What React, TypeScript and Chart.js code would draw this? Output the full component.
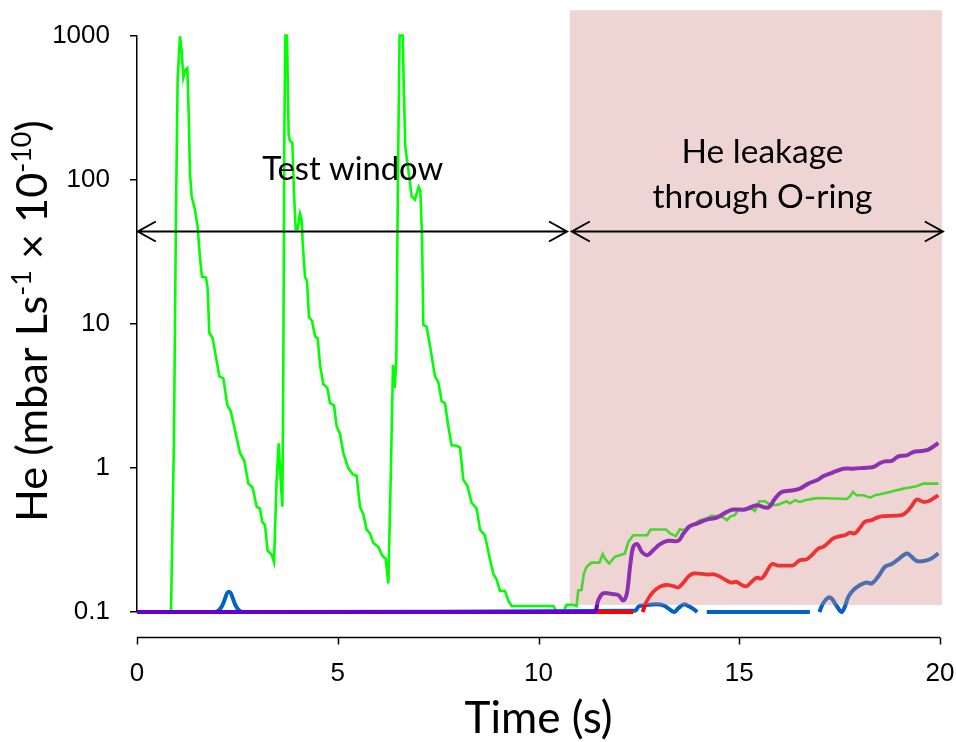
import React, { useEffect, useRef } from "react";
import { Chart, registerables } from "chart.js";

Chart.register(...registerables);

// ---------- axis ticks ----------
const X_TICKS = [0, 5, 10, 15, 20];
const Y_TICKS = [0.1, 1, 10, 100, 1000];
const Y_TICK_LABELS = ["0.1", "1", "10", "100", "1000"];

// ---------- texts ----------
const X_TITLE = "Time (s)";
const Y_TITLE_PARTS: [string, boolean][] = [
  ["He (mbar Ls", false],
  ["-1", true],
  [" \u00d7 10", false],
  ["-10", true],
  [")", false],
];
const TEST_LABEL = "Test window";
const LEAK_LABEL = ["He leakage", "through O-ring"];

// ---------- annotation anchors (data units) ----------
const TEST_ARROW = [0.02, 10.71];
const LEAK_ARROW = [10.83, 20.07];
const ARROW_LEVEL = 44;
const SHADE_X = [10.78, 20.05];
const SHADE_Y = [0.112, 1500];
const TEST_LABEL_POS = [5.37, 100];
const LEAK_LABEL_POS = [15.58, 131, 63.7];

// ---------- series: green ----------
const greenT = [
  0, 0.739, 0.847, 0.92, 0.971, 1.013, 1.071, 1.112, 1.154, 1.204, 1.254, 1.287, 1.32, 1.362, 1.445,
  1.511, 1.569, 1.619, 1.719, 1.76, 1.8, 1.885, 1.968, 2.051, 2.15, 2.25, 2.333, 2.44, 2.565, 2.673,
  2.773, 2.88, 2.98, 3.063, 3.12, 3.188, 3.254, 3.354, 3.412, 3.478, 3.528, 3.578, 3.62, 3.645, 3.67,
  3.694, 3.736, 3.777, 3.81, 3.869, 3.91, 3.952, 4.0, 4.06, 4.1, 4.126, 4.184, 4.234, 4.284, 4.359,
  4.433, 4.5, 4.558, 4.641, 4.74, 4.807, 4.907, 4.973, 5.056, 5.139, 5.264, 5.371, 5.471, 5.554, 5.637,
  5.72, 5.803, 5.886, 6.011, 6.119, 6.193, 6.26, 6.318, 6.376, 6.417, 6.459, 6.5, 6.54, 6.617, 6.65,
  6.683, 6.758, 6.841, 6.924, 7.015, 7.057, 7.098, 7.131, 7.214, 7.298, 7.422, 7.505, 7.588, 7.671,
  7.754, 7.837, 7.945, 8.045, 8.128, 8.227, 8.335, 8.46, 8.543, 8.667, 8.775, 8.875, 8.958, 9.041,
  9.166, 9.249, 9.332, 10.37, 10.45, 10.62, 10.7, 10.87, 10.95, 10.99, 11.07, 11.13, 11.2, 11.32,
  11.515, 11.6, 11.655, 11.76, 11.905, 12.03, 12.15, 12.24, 12.36, 12.71, 12.79, 13.18, 13.275, 13.42,
  13.52, 13.65, 13.73, 13.855, 14.02, 14.19, 14.31, 14.48, 14.6, 14.69, 14.79, 14.89, 14.98, 15.31,
  15.39, 15.5, 15.64, 15.72, 15.85, 15.97, 16.18, 16.26, 16.39, 16.51, 16.64, 16.85, 17.01, 17.68,
  17.76, 17.83, 17.925, 18.09, 18.26, 18.38, 18.51, 18.75, 18.92, 19.09, 19.25, 19.42, 19.585, 19.96,
];
const greenV = [
  0.1, 0.1, 0.1, 1.52, 59.8, 510, 990, 783, 511, 577, 594, 294, 110, 76.5, 61.8,
  46.9, 28.7, 21.2, 20.9, 17.6, 8.7, 7.94, 5.85, 4.31, 4.18, 2.72, 2.48, 1.83, 1.27, 1.12,
  0.777, 0.731, 0.538, 0.522, 0.422, 0.401, 0.266, 0.25, 0.222, 0.826, 1.48, 0.826, 0.538, 5.17, 204,
  1000, 1000, 204, 186, 180, 81.3, 45.5, 45.5, 58.1, 53, 36.7, 21.2, 19.9, 11.1, 10.5,
  8.2, 7.95, 5.17, 3.81, 3.59, 2.81, 2.72, 1.94, 1.72, 1.27, 0.993, 0.906, 0.879, 0.538, 0.476,
  0.373, 0.351, 0.301, 0.283, 0.243, 0.235, 0.158, 0.826, 5.17, 3.59, 5.5, 110, 1000, 1000, 376,
  170, 117, 76.5, 72.8, 89.1, 83.9, 41.5, 9.84, 9.55, 7.03, 4.31, 3.94, 2.9, 2.81,
  1.94, 1.43, 1.43, 1.39, 0.826, 0.753, 0.571, 0.522, 0.373, 0.34, 0.243, 0.184, 0.168, 0.14,
  0.14, 0.12, 0.11, 0.11, 0.1, 0.1, 0.112, 0.112, 0.11, 0.141, 0.142, 0.185, 0.206, 0.22,
  0.22, 0.252, 0.235, 0.217, 0.242, 0.248, 0.255, 0.307, 0.341, 0.341, 0.374, 0.374, 0.351, 0.336,
  0.374, 0.37, 0.394, 0.401, 0.434, 0.446, 0.465, 0.462, 0.453, 0.434, 0.462, 0.47, 0.514, 0.522,
  0.503, 0.587, 0.587, 0.566, 0.551, 0.556, 0.587, 0.566, 0.597, 0.581, 0.597, 0.612, 0.618, 0.609,
  0.636, 0.681, 0.646, 0.646, 0.622, 0.646, 0.656, 0.681, 0.7, 0.718, 0.731, 0.747, 0.778, 0.778,
];

// ---------- series: purple ----------
const purpleT = [
  0, 11.365, 11.49, 11.61, 11.86, 11.99, 12.11, 12.2, 12.28, 12.36, 12.46, 12.57, 12.71, 12.86, 13.03,
  13.23, 13.48, 13.61, 13.77, 13.94, 14.19, 14.44, 14.69, 14.85, 15.14, 15.43, 15.72, 15.89, 16.06,
  16.35, 16.51, 16.72, 16.93, 17.09, 17.26, 17.43, 17.59, 17.84, 18.09, 18.34, 18.51, 18.63, 18.8,
  18.96, 19.17, 19.34, 19.54, 19.71, 19.96,
];
const purpleV = [
  0.1, 0.1, 0.121, 0.1346, 0.133, 0.131, 0.12, 0.134, 0.206, 0.283, 0.296, 0.262, 0.248, 0.269, 0.296,
  0.312, 0.312, 0.35, 0.394, 0.411, 0.438, 0.452, 0.495, 0.514, 0.514, 0.551, 0.531, 0.612, 0.681,
  0.7, 0.718, 0.778, 0.82, 0.875, 0.913, 0.952, 0.988, 0.988, 1.0, 1.015, 1.082, 1.11, 1.117,
  1.203, 1.222, 1.29, 1.31, 1.338, 1.488,
];

// ---------- series: red ----------
const redT = [
  0, 12.36, 12.45, 12.594, 12.69, 12.86, 13.025, 13.19, 13.36, 13.48, 13.61, 13.73, 13.855, 14.23,
  14.35, 14.52, 14.69, 14.81, 14.935, 15.06, 15.185, 15.31, 15.43, 15.56, 15.68, 15.81, 15.97, 16.22,
  16.35, 16.51, 16.68, 16.85, 16.97, 17.09, 17.18, 17.34, 17.51, 17.63, 17.76, 17.88, 18.01, 18.13,
  18.3, 18.42, 18.59, 19.045, 19.17, 19.29, 19.42, 19.585, 19.71, 19.83, 19.96,
];
const redV = [
  0.1, 0.1, null, 0.1, 0.118, 0.138, 0.15, 0.154, 0.151, 0.148, 0.16, 0.176, 0.185, 0.182,
  0.183, 0.176, 0.165, 0.16, 0.162, 0.154, 0.151, 0.162, 0.173, 0.171, 0.19, 0.215, 0.21, 0.21,
  0.211, 0.229, 0.232, 0.255, 0.276, 0.283, 0.296, 0.324, 0.336, 0.341, 0.355, 0.351, 0.385, 0.423,
  0.434, 0.45, 0.462, 0.47, 0.495, 0.542, 0.603, 0.581, 0.587, 0.612, 0.646,
];

// ---------- series: blue ----------
const blueT = [
  0, 1.95, 2.1, 2.29, 2.48, 2.62, 12.4, 12.49, 12.61, 12.94, 13.11, 13.23, 13.375, 13.48, 13.62,
  13.73, 13.855, 13.955, 14.05, 14.19, 16.76, 16.85, 16.995, 17.09, 17.22, 17.3, 17.41, 17.55, 17.63,
  17.72, 17.84, 18.01, 18.17, 18.3, 18.46, 18.63, 18.795, 18.96, 19.17, 19.29, 19.42, 19.585, 19.75,
  19.96,
];
const blueV = [
  0.1, 0.1, 0.108, 0.138, 0.108, 0.1, 0.102, 0.109, 0.111, 0.113, 0.111, 0.106, 0.1, 0.106, 0.113,
  0.11, 0.105, 0.1, null, 0.1, 0.1, null, 0.1, 0.115, 0.126, 0.124, 0.112, 0.1, 0.109,
  0.128, 0.142, 0.154, 0.16, 0.158, 0.176, 0.206, 0.215, 0.232, 0.255, 0.242, 0.226, 0.226, 0.232,
  0.255,
];

const toPoints = (ts: number[], vs: (number | null)[]) => ts.map((t, i) => ({ x: t, y: vs[i] }));

function fitSize(ctx: CanvasRenderingContext2D, text: string, family: string, target: number) {
  ctx.font = `100px ${family}`;
  return (100 * target) / ctx.measureText(text).width;
}

const TITLE_FONT = "Lato";

const annotationPlugin = {
  id: "annotations",
  afterDatasetsDraw(chart: any) {
    const { ctx, chartArea } = chart;
    const xs = chart.scales.x;
    const ys = chart.scales.y;
    ctx.save();

    // translucent shading over the O-ring region
    const sx1 = xs.getPixelForValue(SHADE_X[0]);
    const sx2 = xs.getPixelForValue(SHADE_X[1]);
    const sy1 = ys.getPixelForValue(SHADE_Y[1]);
    const sy2 = ys.getPixelForValue(SHADE_Y[0]);
    ctx.fillStyle = "rgba(210,137,137,0.36)";
    ctx.fillRect(sx1, sy1, sx2 - sx1, sy2 - sy1);

    // double-headed arrows
    const ay = Math.round(ys.getPixelForValue(ARROW_LEVEL)) + 0.5;
    ctx.strokeStyle = "#000";
    ctx.lineWidth = 2;
    ctx.lineJoin = "miter";
    const arrow = (a: number, b: number) => {
      const x1 = xs.getPixelForValue(a);
      const x2 = xs.getPixelForValue(b);
      ctx.beginPath();
      ctx.moveTo(x1, ay);
      ctx.lineTo(x2, ay);
      ctx.moveTo(x1 + 18, ay - 10);
      ctx.lineTo(x1, ay);
      ctx.lineTo(x1 + 18, ay + 10);
      ctx.moveTo(x2 - 18, ay - 10);
      ctx.lineTo(x2, ay);
      ctx.lineTo(x2 - 18, ay + 10);
      ctx.stroke();
    };
    arrow(TEST_ARROW[0], TEST_ARROW[1]);
    arrow(LEAK_ARROW[0], LEAK_ARROW[1]);

    // detached x axis line with downward ticks
    const axisY = Math.round(chartArea.bottom + 25) + 0.5;
    ctx.lineWidth = 1.5;
    ctx.beginPath();
    ctx.moveTo(xs.left, axisY);
    ctx.lineTo(xs.right, axisY);
    xs.ticks.forEach((t: any) => {
      const px = Math.round(xs.getPixelForValue(t.value)) + 0.5;
      ctx.moveTo(px, axisY);
      ctx.lineTo(px, axisY + 7);
    });
    ctx.stroke();

    // annotation texts
    ctx.fillStyle = "#000";
    ctx.textAlign = "center";
    ctx.textBaseline = "alphabetic";
    let s = fitSize(ctx, TEST_LABEL, TITLE_FONT, 181);
    ctx.font = `${s}px ${TITLE_FONT}`;
    ctx.fillText(TEST_LABEL, xs.getPixelForValue(TEST_LABEL_POS[0]), ys.getPixelForValue(TEST_LABEL_POS[1]));
    s = fitSize(ctx, LEAK_LABEL[1], TITLE_FONT, 220);
    ctx.font = `${s}px ${TITLE_FONT}`;
    const lx = xs.getPixelForValue(LEAK_LABEL_POS[0]);
    ctx.fillText(LEAK_LABEL[0], lx, ys.getPixelForValue(LEAK_LABEL_POS[1]));
    ctx.fillText(LEAK_LABEL[1], lx, ys.getPixelForValue(LEAK_LABEL_POS[2]));

    // x title
    s = fitSize(ctx, X_TITLE, TITLE_FONT, 148);
    ctx.font = `${s}px ${TITLE_FONT}`;
    ctx.fillText(X_TITLE, (chartArea.left + chartArea.right) / 2, chartArea.bottom + 121);

    // y title with superscripts, rotated
    ctx.textAlign = "left";
    const supRatio = 0.62;
    let w100 = 0;
    Y_TITLE_PARTS.forEach(([txt, sup]) => {
      ctx.font = `${sup ? 100 * supRatio : 100}px ${TITLE_FONT}`;
      w100 += ctx.measureText(txt).width;
    });
    const base = (100 * 402) / w100;
    ctx.translate(chartArea.left - 90, chartArea.bottom - 90);
    ctx.rotate(-Math.PI / 2);
    let cx = 0;
    Y_TITLE_PARTS.forEach(([txt, sup]) => {
      const fs = sup ? base * supRatio : base;
      ctx.font = `${fs}px ${TITLE_FONT}`;
      ctx.fillText(txt, cx, sup ? -base * 0.36 : 0);
      cx += ctx.measureText(txt).width;
    });
    ctx.restore();
  },
};

export default function App() {
  const ref = useRef<HTMLCanvasElement>(null);
  useEffect(() => {
    if (!ref.current) return;
    const line = (pts: any, color: string, width: number, tension: number) => ({
      data: pts,
      borderColor: color,
      backgroundColor: color,
      borderWidth: width,
      pointRadius: 0,
      tension,
      fill: false,
      spanGaps: false,
      clip: 8,
    });
    const chart = new Chart(ref.current, {
      type: "line",
      data: {
        datasets: [
          line(toPoints(purpleT, purpleV), "#6600cc", 4, 0.35),
          line(toPoints(redT, redV), "#ff0000", 3.8, 0.35),
          line(toPoints(blueT, blueV), "#0062c4", 4, 0.4),
          line(toPoints(greenT, greenV), "#00ff00", 2.6, 0),
        ],
      },
      options: {
        responsive: false,
        animation: false,
        events: [],
        layout: { padding: { top: 34, right: 16, left: 0, bottom: 0 } },
        plugins: { legend: { display: false }, tooltip: { enabled: false }, title: { display: false } },
        scales: {
          x: {
            type: "linear",
            min: 0,
            max: 20,
            afterBuildTicks: (scale: any) => {
              scale.ticks = X_TICKS.map((v) => ({ value: v }));
            },
            afterFit: (scale: any) => {
              scale.height = 130;
            },
            grid: {
              display: true,
              drawOnChartArea: false,
              drawTicks: true,
              tickLength: 46,
              color: "rgba(0,0,0,0)",
            },
            border: { display: false },
            ticks: {
              autoSkip: false,
              maxRotation: 0,
              padding: 0,
              color: "#000",
              font: { family: "Liberation Sans", size: 26 },
              callback: (v: any) => String(v),
            },
          },
          y: {
            type: "logarithmic",
            min: 0.1,
            max: 1000,
            afterBuildTicks: (scale: any) => {
              scale.ticks = Y_TICKS.map((v) => ({ value: v }));
            },
            afterFit: (scale: any) => {
              scale.width = 137;
            },
            grid: {
              display: true,
              drawOnChartArea: false,
              drawTicks: true,
              tickLength: 7,
              color: "#000",
              lineWidth: 1.5,
            },
            border: { display: true, color: "#000", width: 1.5 },
            ticks: {
              autoSkip: false,
              padding: 20,
              color: "#000",
              font: { family: "Liberation Sans", size: 26 },
              callback: (v: any) => {
                const i = Y_TICKS.indexOf(Number(v));
                return i >= 0 ? Y_TICK_LABELS[i] : "";
              },
            },
          },
        },
      },
      plugins: [annotationPlugin],
    });
    return () => chart.destroy();
  }, []);
  return (
    <div style={{ position: "fixed", left: 0, top: 0, width: 956, height: 742, background: "#fff" }}>
      <canvas ref={ref} width={956} height={742} style={{ display: "block" }} />
    </div>
  );
}
